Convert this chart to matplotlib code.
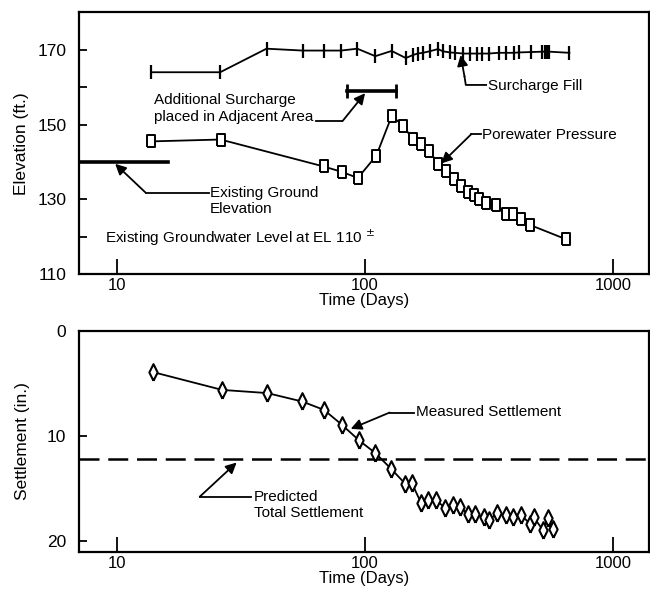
import matplotlib
matplotlib.use("Agg")
import matplotlib.pyplot as plt
from matplotlib.ticker import FixedLocator, NullLocator, FixedFormatter

plt.rcParams['font.family'] = ['Liberation Sans', 'DejaVu Sans']

# surcharge fill elevation (ft) vs time (days)
fill_days = [13.7, 26, 40, 56, 68, 80, 93, 110, 128, 146, 156, 163, 171, 182, 197,
             206, 220, 230, 249, 265, 282, 296, 315, 346, 369, 398, 418, 466,
             520, 532, 543, 554, 668]
fill_elev = [164, 164, 170.3, 169.8, 169.8, 169.8, 170.3, 168.3, 169.7, 167.8, 168.6,
             169, 169.2, 169.6, 170.2, 169.6, 169.3, 169.2, 169, 169, 169, 169, 169,
             169.2, 169.2, 169.2, 169.3, 169.4, 169.5, 169.5, 169.5, 169.5, 169.2]

# porewater pressure (elevation, ft)
pw_days = [13.7, 26.1, 68, 81, 93.5, 111, 128.1, 142.6, 155.5, 167.6, 181.4, 197.3,
           211.8, 228.2, 243.3, 260.4, 275.4, 288.5, 309, 339, 369.4, 395, 427.5,
           465, 648.6]
pw_elev = [145.5, 146, 138.8, 137.3, 135.7, 141.7, 152.3, 149.7, 146.1, 144.8, 143.0,
           139.5, 137.5, 135.5, 133.7, 131.9, 131.1, 130.2, 129.0, 128.4, 126.2,
           126.0, 124.8, 123.1, 119.3]

# additional surcharge period and existing ground
adj_days = [84.5, 133]
adj_elev = 159
ground_elev = 140
ground_end = 16

# measured settlement (in.)
st_days = [13.9, 26.5, 40.3, 55.7, 68.3, 80.5, 94.6, 110, 127.4, 145, 154, 168, 180,
           193, 211, 227, 241, 260, 279, 301, 316, 341, 369, 395, 427, 462, 479,
           522, 547, 573]
st_val = [3.9, 5.6, 5.9, 6.7, 7.5, 8.9, 10.4, 11.6, 13.1, 14.5, 14.4, 16.3, 16.1,
          16.1, 16.8, 16.5, 16.7, 17.4, 17.4, 17.7, 18.0, 17.3, 17.5, 17.7, 17.5,
          18.3, 17.7, 18.9, 17.8, 18.8]
predicted = 12.2

XLIM = (7, 1400)
FS = 11

# tall open markers like the scanned figure
tall_box = [(-0.38, -0.5), (0.38, -0.5), (0.38, 0.5), (-0.38, 0.5), (-0.38, -0.5)]
tall_diamond = [(0, -0.5), (0.25, 0), (0, 0.5), (-0.25, 0), (0, -0.5)]

fig = plt.figure(figsize=(6.5, 5.92), dpi=100)
ax1 = fig.add_axes([0.1215, 0.537, 0.877, 0.442])
ax2 = fig.add_axes([0.1215, 0.0676, 0.877, 0.3733])

arrow = dict(arrowstyle='-|>', mutation_scale=16, lw=1.3, color='k',
             shrinkA=0, shrinkB=0)


def leader(ax, pts, tip):
    # horizontal/elbow line from the label, then an arrow to the tip
    ax.plot([p[0] for p in pts], [p[1] for p in pts], color='k', lw=1.3,
            clip_on=False)
    ax.annotate('', xy=tip, xytext=pts[-1], arrowprops=arrow)


def style(ax):
    ax.set_xscale('log')
    ax.set_xlim(*XLIM)
    ax.xaxis.set_major_locator(FixedLocator([10, 100, 1000]))
    ax.xaxis.set_major_formatter(FixedFormatter(['10', '100', '1000']))
    ax.xaxis.set_minor_locator(NullLocator())
    ax.tick_params(axis='x', direction='in', length=11, width=1.3, pad=3,
                   labelsize=12)
    ax.tick_params(axis='y', direction='in', length=6, width=1.3, pad=9,
                   labelsize=12.5)
    for s in ax.spines.values():
        s.set_linewidth(1.6)
    ax.set_xlabel('Time (Days)', fontsize=FS + 1, labelpad=0)


# ---- top: elevation
style(ax1)
ax1.set_ylim(110, 180)
ax1.set_yticks(range(110, 171, 10))
ax1.set_yticklabels(['110', '', '130', '', '150', '', '170'])
ax1.set_ylabel('Elevation (ft.)', fontsize=FS + 1.5, labelpad=6)

ax1.plot(fill_days, fill_elev, color='k', lw=1.3, marker='|', ms=10, mew=1.6)
ax1.plot(pw_days, pw_elev, color='k', lw=1.3, marker=tall_box, ms=8, mfc='white',
         mec='k', mew=1.4)
ax1.plot(adj_days, [adj_elev] * 2, color='k', lw=2.6, marker='|', ms=10, mew=2)
ax1.plot([XLIM[0], ground_end], [ground_elev] * 2, color='k', lw=2.6)

ax1.text(14.0, 154.3, 'Additional Surcharge\nplaced in Adjacent Area', fontsize=FS,
         va='center', ha='left', linespacing=1.2)
leader(ax1, [(63.5, 150.9), (81, 150.9)], (100, 158.4))

ax1.text(312, 160.4, 'Surcharge Fill', fontsize=FS, va='center', ha='left')
leader(ax1, [(308, 160.6), (255, 160.6), (252, 162.8)], (243, 168.6))

ax1.text(296, 147.2, 'Porewater Pressure', fontsize=FS, va='center', ha='left')
leader(ax1, [(293, 147.4), (268, 147.4)], (203, 139.6))

ax1.text(23.7, 129.6, 'Existing Ground\nElevation', fontsize=FS, va='center',
         ha='left', linespacing=1.2)
leader(ax1, [(23.5, 131.8), (13.0, 131.8)], (9.8, 139.5))

ax1.text(8.9, 119.8, r'Existing Groundwater Level at EL 110 $^{\pm}$', fontsize=FS,
         va='center', ha='left')

# ---- bottom: settlement
style(ax2)
ax2.set_ylim(21, 0)
ax2.set_yticks([0, 10, 20])
ax2.set_ylabel('Settlement (in.)', fontsize=FS + 1.5, labelpad=12)

ax2.axhline(predicted, color='k', lw=1.8, dashes=(8, 3.5))
ax2.plot(st_days, st_val, color='k', lw=1.3, marker=tall_diamond, ms=12,
         mfc='white', mec='k', mew=1.5)

ax2.text(161, 7.7, 'Measured Settlement', fontsize=FS, va='center', ha='left')
leader(ax2, [(158, 7.75), (125.6, 7.75)], (87.5, 9.3))

ax2.text(35.6, 16.5, 'Predicted\nTotal Settlement', fontsize=FS, va='center',
         ha='left', linespacing=1.2)
leader(ax2, [(34.7, 15.75), (21.5, 15.75)], (30.3, 12.5))

fig.savefig('out.png', dpi=100)
